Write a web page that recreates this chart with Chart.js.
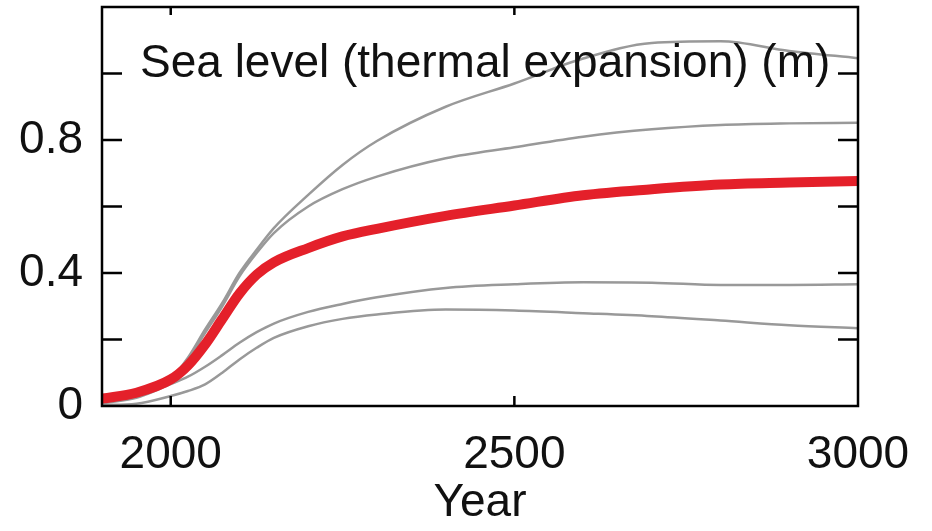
<!DOCTYPE html>
<html>
<head>
<meta charset="utf-8">
<script src="https://cdn.jsdelivr.net/npm/chart.js@4"></script>
<style>
  html, body { margin: 0; padding: 0; background: #fff; }
  canvas { display: block; }
</style>
</head>
<body>
<canvas id="c" width="932" height="531"></canvas>
<script>
// data
const years = [1900, 1950, 2000, 2025, 2050, 2075, 2100, 2125, 2150, 2200, 2250, 2300, 2400, 2500, 2600, 2700, 2800, 2900, 3000];
const meanRun = [0.022, 0.040, 0.080, 0.122, 0.185, 0.262, 0.338, 0.395, 0.432, 0.475, 0.510, 0.533, 0.572, 0.603, 0.634, 0.652, 0.666, 0.672, 0.677];
const model1 = [0.010, 0.030, 0.082, 0.145, 0.230, 0.310, 0.400, 0.470, 0.535, 0.635, 0.725, 0.797, 0.900, 0.970, 1.045, 1.092, 1.097, 1.068, 1.046];
const model2 = [0.010, 0.030, 0.082, 0.140, 0.220, 0.300, 0.390, 0.460, 0.520, 0.600, 0.652, 0.690, 0.745, 0.778, 0.810, 0.832, 0.845, 0.850, 0.852];
const model3 = [0.008, 0.025, 0.066, 0.088, 0.118, 0.153, 0.190, 0.222, 0.248, 0.283, 0.307, 0.327, 0.355, 0.366, 0.372, 0.371, 0.364, 0.364, 0.366];
const model4 = [0.003, 0.007, 0.030, 0.045, 0.065, 0.100, 0.140, 0.175, 0.205, 0.240, 0.262, 0.275, 0.290, 0.287, 0.279, 0.270, 0.257, 0.243, 0.234];
const xTicks = [2000, 2500, 3000];
const yTicks = [0, 0.2, 0.4, 0.6, 0.8, 1.0, 1.2];
const yLabelled = [0, 0.4, 0.8];
const titleText = 'Sea level (thermal expansion) (m)';

const FONT = '"Liberation Sans", Arial, sans-serif';
const toPts = vals => vals.map((v, i) => ({ x: years[i], y: v }));

function grey(vals) {
  return { data: toPts(vals), borderColor: '#999999', borderWidth: 2.5, pointRadius: 0, cubicInterpolationMode: 'monotone', order: 2 };
}

// frame, inward ticks and the inset title
const framePlugin = {
  id: 'frame',
  afterDatasetsDraw(chart) {
    const { ctx, chartArea: a, scales } = chart;
    ctx.save();
    ctx.strokeStyle = '#000';
    ctx.lineWidth = 2.5;
    ctx.strokeRect(a.left, a.top, a.right - a.left, a.bottom - a.top);
    ctx.beginPath();
    yTicks.slice(1, -1).forEach(v => {
      const y = scales.y.getPixelForValue(v);
      ctx.moveTo(a.left, y); ctx.lineTo(a.left + 20, y);
      ctx.moveTo(a.right, y); ctx.lineTo(a.right - 20, y);
    });
    xTicks.slice(0, -1).forEach(v => {
      const x = scales.x.getPixelForValue(v);
      ctx.moveTo(x, a.bottom); ctx.lineTo(x, a.bottom - 10);
      ctx.moveTo(x, a.top); ctx.lineTo(x, a.top + 8);
    });
    ctx.stroke();
    ctx.fillStyle = '#111';
    ctx.font = '46px ' + FONT;
    ctx.textBaseline = 'alphabetic';
    ctx.fillText(titleText, 140, 77);
    ctx.restore();
  }
};

new Chart(document.getElementById('c'), {
  type: 'line',
  data: {
    datasets: [
      { data: toPts(meanRun), borderColor: '#e4202a', borderWidth: 10, pointRadius: 0, cubicInterpolationMode: 'monotone', order: 1 },
      grey(model1), grey(model2), grey(model3), grey(model4)
    ]
  },
  options: {
    responsive: false,
    animation: false,
    devicePixelRatio: 1,
    layout: { padding: { top: 7, right: 74, left: 0, bottom: 0 } },
    plugins: { legend: { display: false }, tooltip: { enabled: false } },
    scales: {
      x: {
        type: 'linear', min: 1900, max: 3000,
        afterBuildTicks: s => { s.ticks = xTicks.map(v => ({ value: v })); },
        afterFit: s => { s.height = 125; s.paddingLeft = 0; s.paddingRight = 0; },
        grid: { display: false, drawTicks: false },
        border: { display: false },
        ticks: { color: '#111', font: { family: FONT, size: 46 }, padding: 22, maxRotation: 0, autoSkip: false, callback: v => String(v) },
        title: { display: true, text: 'Year', color: '#111', font: { family: FONT, size: 46 }, padding: { top: 6, bottom: 0 } }
      },
      y: {
        min: 0, max: 1.2,
        afterBuildTicks: s => { s.ticks = yTicks.map(v => ({ value: v })); },
        afterFit: s => { s.width = 102; s.paddingTop = 0; s.paddingBottom = 0; },
        grid: { display: false, drawTicks: false },
        border: { display: false },
        ticks: {
          color: '#111', font: { family: FONT, size: 46 }, padding: 19, autoSkip: false,
          callback: v => yLabelled.some(t => Math.abs(t - v) < 1e-6) ? String(Math.round(v * 10) / 10) : ''
        }
      }
    }
  },
  plugins: [framePlugin]
});
</script>
</body>
</html>
